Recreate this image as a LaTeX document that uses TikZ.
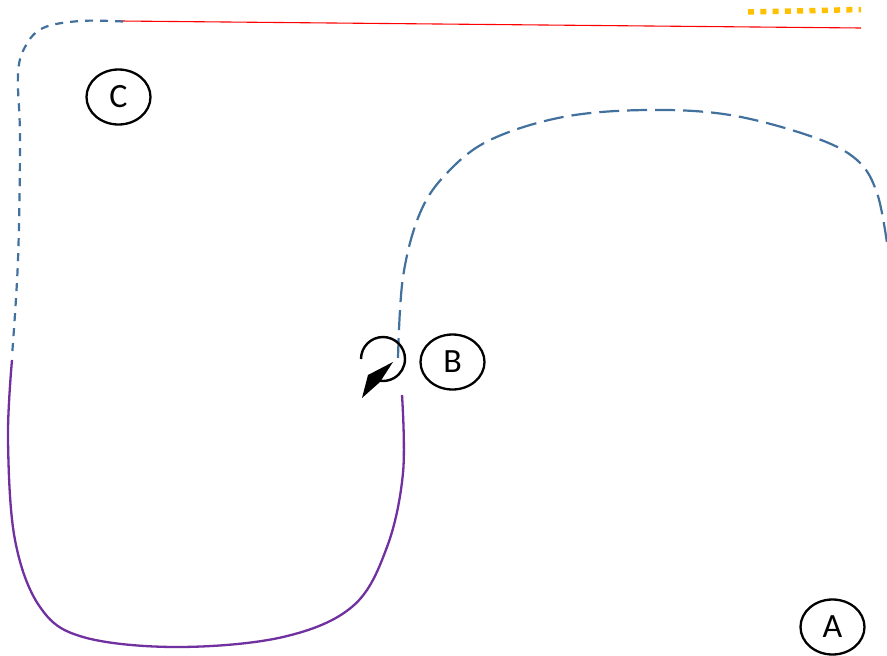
\documentclass[tikz,border=0pt]{standalone}
\usepackage{fontspec}
\setmainfont{Carlito}
\usetikzlibrary{shapes.geometric}
\definecolor{dblue}{HTML}{41719C}
\definecolor{dpurple}{HTML}{7030A0}
\definecolor{dorange}{HTML}{FFC000}
\tikzset{
  lbl/.style={draw, ellipse, line width=2.3pt, minimum width=64pt, minimum height=55pt, inner sep=0pt, font=\fontsize{34}{36}\selectfont},
  bluedash/.style={draw=dblue, line width=2.2pt, dash pattern=on 20pt off 8pt},
  bluedashs/.style={draw=dblue, line width=2.2pt, dash pattern=on 8pt off 7pt},
  purp/.style={draw=dpurple, line width=2.3pt},
}
\begin{document}
\begin{tikzpicture}[x=1pt,y=-1pt]
\useasboundingbox[fill=white] (0,0) rectangle (887,656);
% nodes
\node[lbl] (C) at (118.5,97) {C};
\node[lbl] (B) at (452.5,362) {B};
\node[lbl] (A) at (832.5,627) {A};
% red line
\coordinate (r1) at (120,21);
\coordinate (r2) at (861,28);
\draw[red, line width=1.1pt] (r1) -- (r2);
% orange dotted
\coordinate (o1) at (748,12);
\coordinate (o2) at (861,9.5);
\draw[dorange, line width=5.5pt, dash pattern=on 6pt off 6.3pt] (o1) -- (o2);
% blue dashed left
\draw[bluedashs] plot[smooth, tension=0.6] coordinates {(123,21.5) (80,21) (43,28) (25,47) (18,75) (20,140) (18,260) (12,356)};
% purple
\draw[purp] plot[smooth, tension=0.6] coordinates {(12,360) (8,440) (15,540) (40,607) (83,637) (177,647) (283,637) (353,606) (387,547) (403,473) (402,395)};
% blue dashed right
\draw[bluedash] plot[smooth, tension=0.6] coordinates {(398,358) (403,277) (420,213) (447,173) (490,140) (563,117) (647,110) (730,115) (813,137) (857,160) (877,193) (887,243)};
% circular arrow icon
\draw[line width=2.4pt] (361,359) arc[start angle=180, end angle=-100, radius=22pt];
\fill (362,398) -- (368,375) -- (393,362) -- (380,382) -- cycle;
\end{tikzpicture}
\end{document}
